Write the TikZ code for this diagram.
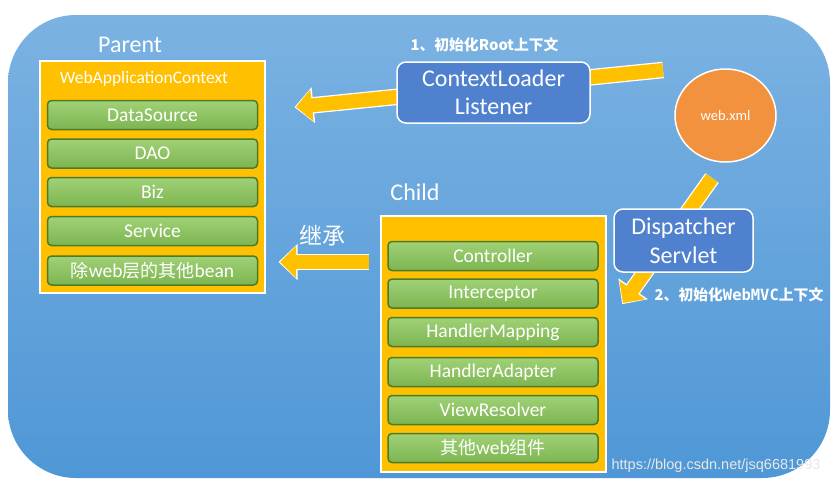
\documentclass[tikz,border=0pt]{standalone}
\usepackage{fontspec}
\setmainfont{Carlito}
\newfontfamily\cjk{Noto Sans CJK SC}
\newfontfamily\monob{DejaVu Sans Mono}
\newfontfamily\wmfont{Liberation Sans}
\usetikzlibrary{arrows.meta,shapes.geometric}
\definecolor{bgtop}{HTML}{7BB2E2}
\definecolor{bgbot}{HTML}{4F97D6}
\definecolor{ybox}{HTML}{FFC000}
\definecolor{gtop}{HTML}{A0D176}
\definecolor{gbot}{HTML}{7DB551}
\definecolor{gdark}{HTML}{4E7A2A}
\definecolor{bbox}{HTML}{4F81CF}
\definecolor{orng}{HTML}{F2923F}
\pgfdeclarelayer{bg}
\pgfdeclarelayer{mid}
\pgfsetlayers{bg,mid,main}
\tikzset{
  container/.style={draw=white, line width=1.2pt, fill=ybox, inner sep=0pt},
  bar/.style={draw=gdark, line width=1.5pt, rounded corners=4pt, top color=gtop, bottom color=gbot,
              minimum width=210pt, minimum height=29pt, inner sep=0pt, text=white,
              font=\fontsize{19.5}{22}\selectfont},
  bluebox/.style={draw=white, line width=1.5pt, fill=bbox, rounded corners=9pt, text=white,
              align=center, inner sep=0pt, font=\fontsize{24}{28.5}\selectfont},
  lbl/.style={text=white, inner sep=0pt},
  yarrow/.style={draw=ybox, line width=14pt, -{Triangle[length=16pt,width=31pt]},
              preaction={draw=white, line width=16.5pt, shorten >=-1.5pt,
                         -{Triangle[length=19pt,width=35pt]}}},
}
\begin{document}
\begin{tikzpicture}[x=1pt,y=-1pt]
\useasboundingbox (0,0) rectangle (840,485);
\begin{pgfonlayer}{bg}
  \fill[white] (0,0) rectangle (840,485);
  \shade[top color=bgtop, bottom color=bgbot, rounded corners=68pt] (8,15) rectangle (830,478);
\end{pgfonlayer}

% Parent
\node[lbl, font=\fontsize{24}{28}\selectfont] (parentlbl) at (130,45) {Parent};
\node[container, minimum width=225pt, minimum height=232pt] (parent) at (152.5,177) {};
\node[lbl, font=\fontsize{17.5}{20}\selectfont] (wac) at (144,79) {WebApplicationContext};
\node[bar] (p1) at (152.5,115) {DataSource};
\node[bar] (p2) at (152.5,153.5) {DAO};
\node[bar] (p3) at (152.5,192) {Biz};
\node[bar] (p4) at (152.5,231) {Service};
\node[bar] (p5) at (152.5,270.5) {{\cjk\fontsize{18}{22}\selectfont 除}web{\cjk\fontsize{18}{22}\selectfont 层的其他}bean};

% Child
\node[lbl, font=\fontsize{24}{28}\selectfont] (childlbl) at (415,192) {Child};
\node[container, minimum width=225pt, minimum height=256pt] (child) at (493.5,344) {};
\node[bar] (c1) at (493,256) {Controller};
\node[bar] (c2) at (493,293.5) {Interceptor};
\node[bar] (c3) at (493,332) {HandlerMapping};
\node[bar] (c4) at (493,372) {HandlerAdapter};
\node[bar] (c5) at (493,410) {ViewResolver};
\node[bar] (c6) at (493,448) {{\cjk\fontsize{18}{22}\selectfont 其他}web{\cjk\fontsize{18}{22}\selectfont 组件}};

% Blue boxes and web.xml
\node[bluebox, minimum width=193pt, minimum height=61pt] (cll) at (493.5,92.5) {ContextLoader\\Listener};
\node[bluebox, minimum width=139pt, minimum height=63pt] (ds) at (683.5,240.5) {Dispatcher\\Servlet};
\node[ellipse, draw=white, line width=1.5pt, fill=orng, minimum width=101pt, minimum height=93pt,
      inner sep=0pt, text=white, font=\fontsize{14.5}{17}\selectfont] (webxml) at (725.5,115.5) {web.xml};

% Labels
\node[lbl, font=\cjk\bfseries\fontsize{14.8}{17}\selectfont] (l1) at (484.5,45) {1、初始化Root上下文};
\node[lbl, font=\cjk\bfseries\fontsize{14.8}{17}\selectfont] (l2) at (739,295)
  {2、初始化{\monob\bfseries\fontsize{15.5}{17}\selectfont WebMVC}上下文};
\node[lbl, font=\cjk\fontsize{23}{26}\selectfont] (inh) at (322,236) {继承};

% Arrows (behind boxes)
\coordinate (a1s) at (663,70);
\coordinate (a1e) at (296,107);
\coordinate (a2s) at (712,178);
\coordinate (a2e) at (623,303);
\coordinate (a3s) at (369,262);
\coordinate (a3e) at (280,262);
\begin{pgfonlayer}{mid}
  \draw[yarrow] (a1s) -- (a1e);
  \draw[yarrow] (a2s) -- (a2e);
  \draw[yarrow] (a3s) -- (a3e);
\end{pgfonlayer}

% Watermark
\node[text=white!82!gray, inner sep=0pt, font=\wmfont\fontsize{14.5}{17}\selectfont] (wm) at (716,466)
  {https://blog.csdn.net/jsq6681993};
\end{tikzpicture}
\end{document}
